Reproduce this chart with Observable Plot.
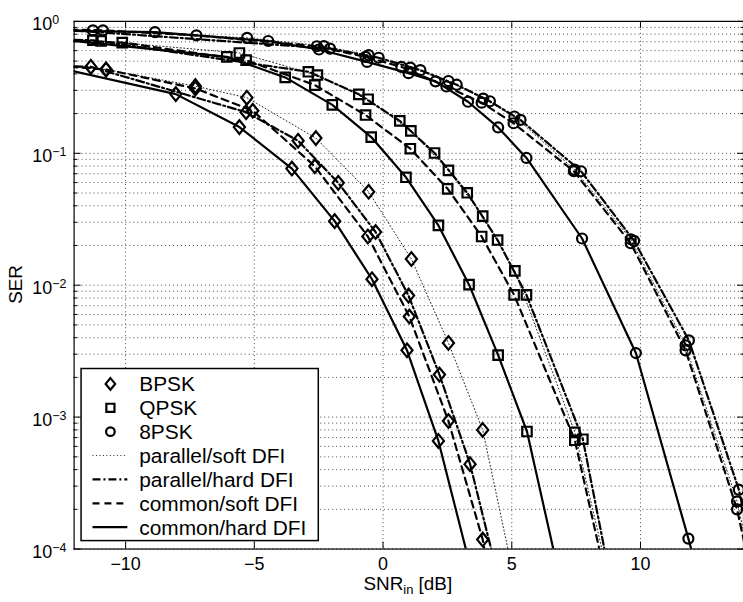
<!DOCTYPE html>
<html><head><meta charset="utf-8">
<script src="https://cdn.jsdelivr.net/npm/d3@7"></script>
<script src="https://cdn.jsdelivr.net/npm/@observablehq/plot@0.6"></script>
<style>
html,body{margin:0;padding:0;background:#fff;overflow:hidden;}
#chart{position:relative;width:743px;height:602px;overflow:hidden;}
</style></head><body><div id="chart"></div>
<script>
// ---- categories ----
const modulations = ["BPSK", "QPSK", "8PSK"];
const methods = ["parallel/soft DFI", "parallel/hard DFI", "common/soft DFI", "common/hard DFI"];

// ---- series: [SNR_in (dB), SER] ----
const bpskCommonHard   = [[-12.3,0.43],[-8.05,0.281],[-5.58,0.158],[-3.54,0.0766],[-1.88,0.0306],[-0.43,0.0111],[0.93,0.00321],[2.15,6.6e-4],[3.35,7.9e-5]];
const bpskCommonSoft   = [[-12.6,0.46],[-10.76,0.432],[-7.29,0.31],[-5.06,0.21],[-2.65,0.0797],[-0.59,0.0234],[1.02,0.00579],[2.54,9.35e-4],[3.87,1.18e-4],[5.1,6e-6]];
const bpskParallelHard = [[-12.6,0.46],[-11.35,0.452],[-5.32,0.205],[-3.30,0.1245],[-1.74,0.0597],[-0.29,0.0253],[0.99,0.00834],[2.19,0.0021],[3.38,4.4e-4],[4.5,5.8e-5]];
const bpskParallelSoft = [[-12.6,0.46],[-10.76,0.432],[-7.29,0.323],[-5.29,0.264],[-2.61,0.1304],[-0.56,0.0511],[1.10,0.0158],[2.54,0.00365],[3.87,8.0e-4],[5.1,5.9e-5]];

const qpskCommonHard   = [[-12.6,0.73],[-6.07,0.538],[-3.80,0.376],[-1.97,0.233],[-0.46,0.1327],[0.89,0.0658],[2.15,0.0284],[3.34,0.0101],[4.47,0.00295],[5.59,7.78e-4],[6.7,8.4e-5]];
const qpskCommonSoft   = [[-12.6,0.72],[-10.13,0.691],[-5.32,0.508],[-2.65,0.329],[-0.68,0.195],[1.06,0.1083],[2.51,0.0538],[3.83,0.0234],[5.09,0.00844],[7.45,6.68e-4],[8.8,4.5e-5]];
const qpskParallelHard = [[-12.6,0.73],[-11.27,0.719],[-2.90,0.415],[-0.94,0.280],[0.65,0.176],[2.00,0.1005],[3.27,0.0502],[4.45,0.022],[5.57,0.00844],[7.76,6.8e-4],[9.0,4e-5]];
const qpskParallelSoft = [[-12.6,0.72],[-10.95,0.71],[-5.58,0.576],[-2.55,0.392],[-0.58,0.257],[1.08,0.148],[2.54,0.0743],[3.87,0.0334],[5.12,0.01286],[7.45,7.67e-4],[8.8,5.6e-5]];

const psk8CommonHard   = [[-12.6,0.85],[-8.86,0.83],[-4.46,0.71],[-2.49,0.612],[-0.62,0.493],[0.99,0.405],[2.04,0.351],[3.30,0.246],[4.47,0.157],[5.57,0.0922],[7.73,0.0226],[9.82,0.00306],[11.86,1.2e-4],[13.9,4e-6]];
const psk8CommonSoft   = [[-12.6,0.87],[-10.88,0.855],[-7.25,0.784],[-2.57,0.648],[-0.68,0.538],[0.71,0.452],[2.46,0.321],[3.83,0.242],[5.07,0.169],[7.41,0.0731],[9.62,0.0208],[11.75,0.00321],[13.75,2.0e-4],[15,1.5e-5]];
const psk8ParallelHard = [[-12.6,0.87],[-2.06,0.622],[-0.17,0.53],[1.45,0.427],[2.86,0.331],[4.15,0.248],[5.34,0.179],[7.69,0.0731],[9.75,0.0217],[11.88,0.00382],[13.82,2.82e-4],[15,2.5e-5]];
const psk8ParallelSoft = [[-12.6,0.87],[-11.27,0.855],[-5.28,0.75],[-2.30,0.65],[-0.56,0.554],[1.06,0.446],[2.54,0.353],[3.89,0.26],[5.10,0.19],[7.44,0.0752],[9.62,0.0223],[11.75,0.0035],[13.75,2.3e-4],[15,1.8e-5]];

// ---- ticks / labels ----
const xTicks = [-10, -5, 0, 5, 10];
const xTickLabels = ["\u221210", "\u22125", "0", "5", "10"];
const yDecades = [1e-4, 1e-3, 1e-2, 1e-1, 1];
const yExponents = ["\u22124", "\u22123", "\u22122", "\u22121", "0"];
const yMinorMantissas = [2, 3, 4, 5, 6, 7, 8, 9];
const xLabelParts = ["SNR", "in", " [dB]"];
const yLabelText = "SER";

// ---- build table ----
const seriesList = [
  ["BPSK", "common/hard DFI", bpskCommonHard], ["BPSK", "common/soft DFI", bpskCommonSoft],
  ["BPSK", "parallel/hard DFI", bpskParallelHard], ["BPSK", "parallel/soft DFI", bpskParallelSoft],
  ["QPSK", "common/hard DFI", qpskCommonHard], ["QPSK", "common/soft DFI", qpskCommonSoft],
  ["QPSK", "parallel/hard DFI", qpskParallelHard], ["QPSK", "parallel/soft DFI", qpskParallelSoft],
  ["8PSK", "common/hard DFI", psk8CommonHard], ["8PSK", "common/soft DFI", psk8CommonSoft],
  ["8PSK", "parallel/hard DFI", psk8ParallelHard], ["8PSK", "parallel/soft DFI", psk8ParallelSoft]
];
const rows = seriesList.flatMap(([mod, method, pts]) =>
  pts.map(([snr, ser]) => ({mod, method, key: mod + "|" + method, snr, ser})));
const yMinor = yDecades.slice(0, -1).flatMap(d => yMinorMantissas.map(m => m * d));
const yGrid = [...yDecades, ...yMinor];

// ---- styles ----
const lineStyle = {
  "parallel/soft DFI": {stroke: "#222", strokeWidth: 1, strokeDasharray: "1,2.5"},
  "parallel/hard DFI": {stroke: "#000", strokeWidth: 2.2, strokeDasharray: "8,3,2,3"},
  "common/soft DFI":   {stroke: "#000", strokeWidth: 2.2, strokeDasharray: "7,5"},
  "common/hard DFI":   {stroke: "#000", strokeWidth: 2.2}
};
const symDiamond = {draw(ctx, size) { const r = Math.sqrt(size / Math.PI); const w = r * 0.8, h = r * 0.98;
  ctx.moveTo(0, -h); ctx.lineTo(w, 0); ctx.lineTo(0, h); ctx.lineTo(-w, 0); ctx.closePath(); }};
const symSquare = {draw(ctx, size) { const r = Math.sqrt(size / Math.PI); const s = r * 0.68;
  ctx.moveTo(-s, -s); ctx.lineTo(s, -s); ctx.lineTo(s, s); ctx.lineTo(-s, s); ctx.closePath(); }};
const symCircle = {draw(ctx, size) { const r = Math.sqrt(size / Math.PI) * 0.72;
  ctx.moveTo(r, 0); ctx.arc(0, 0, r, 0, 2 * Math.PI); ctx.closePath(); }};
const modSymbol = {"BPSK": symDiamond, "QPSK": symSquare, "8PSK": symCircle};
const markerR = 7;

const font = "'Liberation Sans', Arial, Helvetica, sans-serif";

const marks = [
  Plot.gridY(yGrid, {stroke: "#333", strokeOpacity: 1, strokeWidth: 0.9, strokeDasharray: "1,3"}),
  Plot.gridX(xTicks, {stroke: "#333", strokeOpacity: 1, strokeWidth: 0.9, strokeDasharray: "1,3"}),
  ...methods.map(m => Plot.line(rows.filter(r => r.method === m), {
    x: "snr", y: "ser", z: "key", clip: true, strokeLinejoin: "round", ...lineStyle[m]})),
  ...modulations.map(md => Plot.dot(rows.filter(r => r.mod === md), {
    x: "snr", y: "ser", symbol: modSymbol[md], r: markerR, stroke: "#000", strokeWidth: 2.2, fill: "none", clip: true})),
  Plot.frame({stroke: "#000", strokeWidth: 1.2}),
  Plot.axisX(xTicks, {anchor: "bottom", tickSize: 0, tickPadding: 8, fontSize: 18,
    tickFormat: d => xTickLabels[xTicks.indexOf(d)], label: null}),
  Plot.axisX(xTicks, {anchor: "bottom", tickSize: 7, dy: -7, fill: "none", label: null}),
  Plot.axisX(xTicks, {anchor: "top", tickSize: 6, dy: 6, fill: "none", label: null}),
  Plot.axisY(yDecades, {anchor: "left", tickSize: 0, tickPadding: 0, dx: -42, dy: 3, textAnchor: "start", fontSize: 18,
    tickFormat: d => "10^" + yExponents[yDecades.indexOf(d)], label: null}),
  Plot.axisY(yDecades, {anchor: "left", tickSize: 7, dx: 7, fill: "none", label: null}),
  Plot.axisY(yMinor, {anchor: "left", tickSize: 3.5, dx: 3.5, fill: "none", label: null}),
  Plot.axisY(yDecades, {anchor: "right", tickSize: 7, dx: -7, fill: "none", label: null}),
  Plot.axisY(yMinor, {anchor: "right", tickSize: 3.5, dx: -3.5, fill: "none", label: null})
];

const chart = Plot.plot({
  width: 747, height: 602,
  marginLeft: 74, marginRight: 0, marginTop: 21, marginBottom: 50.5,
  style: {fontFamily: font, background: "white", color: "#000"},
  x: {domain: [-12, 14]},
  y: {type: "log", domain: [1e-4, 1]},
  marks
});
document.getElementById("chart").appendChild(chart);

const svg = d3.select(chart);
// superscript exponents on y tick labels
svg.selectAll('g[aria-label="y-axis tick label"] text').each(function() {
  const t = this.textContent.split("^");
  if (t.length !== 2) return;
  const el = d3.select(this);
  el.text(null);
  el.append("tspan").text(t[0]);
  el.append("tspan").attr("dy", "-0.5em").attr("font-size", "12.5px").text(t[1]);
});

// axis titles
const xl = svg.append("text").attr("x", 410).attr("y", 593).attr("text-anchor", "middle")
  .attr("font-family", font).attr("font-size", 19).attr("fill", "#000");
xl.append("tspan").text(xLabelParts[0]);
xl.append("tspan").attr("dy", 4).attr("font-size", 13).text(xLabelParts[1]);
xl.append("tspan").attr("dy", -4).text(xLabelParts[2]);
svg.append("text").attr("transform", "translate(22,286) rotate(-90)").attr("text-anchor", "middle")
  .attr("font-family", font).attr("font-size", 19).attr("fill", "#000").text(yLabelText);

// legend
const lg = svg.append("g");
lg.append("rect").attr("x", 81.5).attr("y", 370.5).attr("width", 238.5).attr("height", 173)
  .attr("fill", "#fff").attr("stroke", "#000").attr("stroke-width", 1.5);
const legendItems = [
  ...modulations.map(m => ({label: m, symbol: modSymbol[m]})),
  ...methods.map(m => ({label: m, style: lineStyle[m]}))
];
legendItems.forEach((it, i) => {
  const y = 386 + 24 * i;
  if (it.symbol) {
    lg.append("path").attr("transform", `translate(111,${y})`)
      .attr("d", d3.symbol(it.symbol, Math.PI * 6 * 6)())
      .attr("fill", "none").attr("stroke", "#000").attr("stroke-width", 2.2);
  } else {
    lg.append("line").attr("x1", 93).attr("x2", 128).attr("y1", y).attr("y2", y)
      .attr("stroke", it.style.stroke).attr("stroke-width", it.style.strokeWidth)
      .attr("stroke-dasharray", it.style.strokeDasharray || null);
  }
  lg.append("text").attr("x", 140).attr("y", y).attr("dy", "0.36em").attr("text-anchor", "start")
    .attr("font-family", font).attr("font-size", 21).attr("fill", "#000").text(it.label);
});
</script></body></html>
